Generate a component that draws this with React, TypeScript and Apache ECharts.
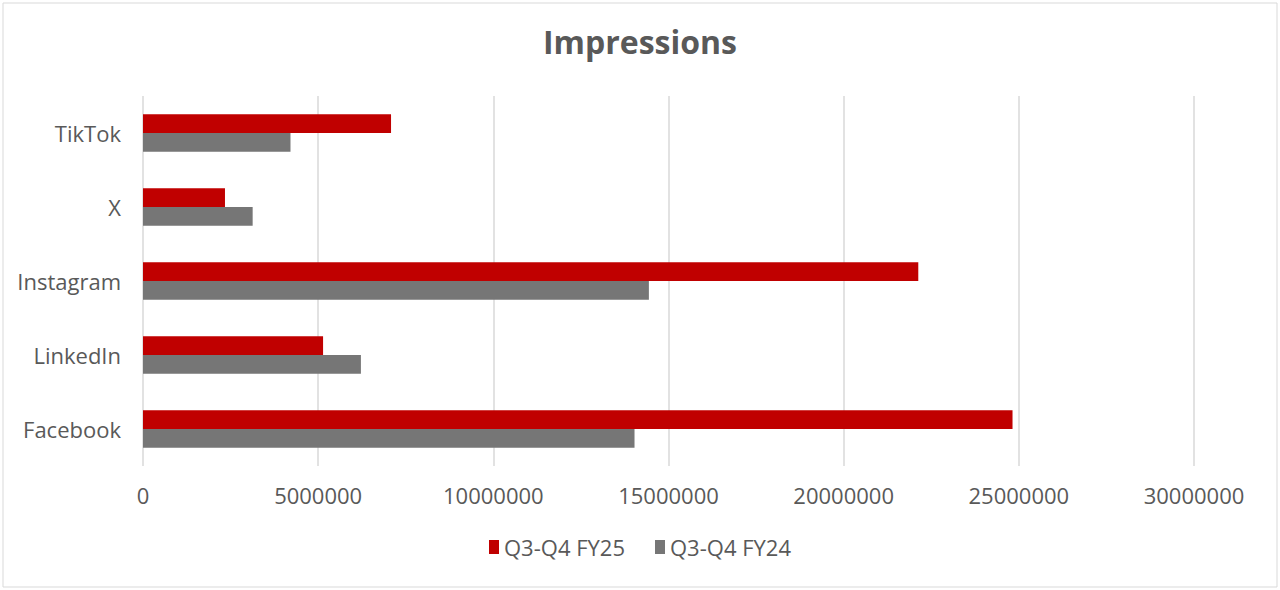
import React, { useEffect, useRef } from "react";
import * as echarts from "echarts";

const categories = ["Facebook", "LinkedIn", "Instagram", "X", "TikTok"];
const seriesFY25 = [24820000, 5140000, 22130000, 2340000, 7080000];
const seriesFY24 = [14030000, 6220000, 14440000, 3130000, 4210000];
const seriesNames = ["Q3-Q4 FY25", "Q3-Q4 FY24"];
const axisMax = 30000000;
const axisInterval = 5000000;

export default function App() {
  const ref = useRef<HTMLDivElement>(null);
  useEffect(() => {
    if (!ref.current) return;
    const chart = echarts.init(ref.current, null, { renderer: "svg" });
    const font = "'Open Sans', sans-serif";
    chart.setOption({
      animation: false,
      backgroundColor: "#ffffff",
      textStyle: { fontFamily: font },
      title: {
        text: "Impressions",
        left: "center",
        top: 20,
        textStyle: { fontFamily: font, fontSize: 32, fontWeight: "bold", color: "#595959" },
      },
      graphic: [
        {
          type: "rect",
          shape: { x: 3, y: 3, width: 1274, height: 584 },
          style: { fill: "none", stroke: "#d9d9d9", lineWidth: 1 },
          silent: true,
        },
      ],
      legend: {
        data: seriesNames,
        bottom: 27,
        left: "center",
        itemWidth: 10,
        itemHeight: 14,
        itemGap: 30,
        icon: "rect",
        textStyle: { fontFamily: font, fontSize: 22, color: "#595959" },
      },
      grid: { left: 143, right: 86, top: 96, bottom: 124, containLabel: false },
      xAxis: {
        type: "value",
        min: 0,
        max: axisMax,
        interval: axisInterval,
        axisLine: { show: false },
        axisTick: { show: false },
        splitLine: { show: true, lineStyle: { color: "#d9d9d9", width: 1.5 } },
        axisLabel: {
          fontFamily: font,
          fontSize: 22,
          color: "#595959",
          margin: 18,
          formatter: (v: number) => String(v),
        },
      },
      yAxis: {
        type: "category",
        data: categories,
        axisLine: { show: false },
        axisTick: { show: false },
        axisLabel: { fontFamily: font, fontSize: 22, color: "#595959", margin: 22 },
      },
      series: [
        {
          name: seriesNames[0],
          type: "bar",
          data: seriesFY25,
          itemStyle: { color: "#c00000" },
          barGap: "0%",
          barCategoryGap: "49%",
        },
        {
          name: seriesNames[1],
          type: "bar",
          data: seriesFY24,
          itemStyle: { color: "#767676" },
          barGap: "0%",
          barCategoryGap: "49%",
        },
      ],
    });
    return () => chart.dispose();
  }, []);
  return (
    <div
      ref={ref}
      style={{ position: "fixed", left: 0, top: 0, width: 1280, height: 590 }}
    />
  );
}
